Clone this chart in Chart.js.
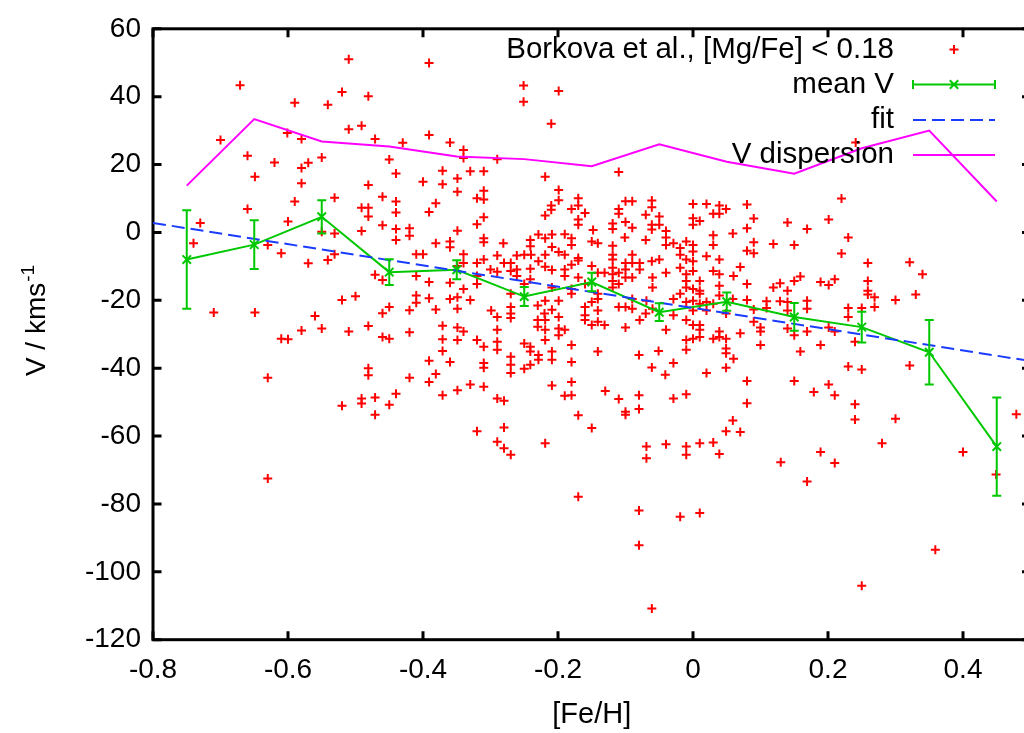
<!DOCTYPE html>
<html>
<head>
<meta charset="utf-8">
<script src="https://cdn.jsdelivr.net/npm/chart.js@4/dist/chart.umd.min.js"></script>
<style>
  html, body { margin: 0; padding: 0; background: #fff; overflow: hidden; }
  #wrap { width: 1024px; height: 733px; overflow: hidden; }
</style>
</head>
<body>
<div id="wrap"><canvas id="chart" width="1040" height="733"></canvas></div>
<script>
// [Fe/H] tick labels
const feHTicks = [-0.8, -0.6, -0.4, -0.2, 0, 0.2, 0.4];

const legendLabels = ["Borkova et al., [Mg/Fe] < 0.18", "mean V", "fit", "V dispersion"];

// Borkova et al. stars, [Fe/H] vs V (km/s)
const borkovaMetalPoor = [
  [-0.510,51.0],[-0.391,49.9],[-0.671,43.4],[-0.520,41.4],[-0.481,40.1],[-0.590,38.2],[-0.541,37.6],[-0.491,31.4],[-0.510,30.4],[-0.601,29.3],
  [-0.391,28.7],[-0.700,27.2],[-0.580,27.5],[-0.471,27.5],[-0.430,26.4],[-0.660,22.6],[-0.550,22.1],[-0.620,20.6],[-0.570,20.5],[-0.580,19.0],
  [-0.450,21.5],[-0.371,18.2],[-0.649,16.4],[-0.440,17.4],[-0.580,14.5],[-0.481,14.0],[-0.400,14.9],[-0.371,14.2],[-0.531,10.2],[-0.460,10.5],
  [-0.590,9.1],[-0.440,9.1],[-0.381,8.6],[-0.660,6.9],[-0.491,7.3],[-0.481,7.3],[-0.481,4.7],[-0.440,5.9],[-0.391,6.0],[-0.730,2.8],
  [-0.600,3.2],[-0.460,2.1],[-0.491,0.4],[-0.440,1.0],[-0.420,1.2],[-0.550,0.2],[-0.531,-0.3],[-0.420,-1.0],[-0.740,-3.2],[-0.440,-2.2],
  [-0.381,-3.2],[-0.630,-3.7],[-0.610,-6.1],[-0.531,-6.4],[-0.541,-8.1],[-0.410,-6.4],[-0.400,-6.4],[-0.570,-9.1],[-0.471,-12.5],[-0.460,-14.0],
  [-0.410,-12.8],[-0.391,-14.6],[-0.520,-19.9],[-0.500,-18.8],[-0.410,-18.6],[-0.410,-20.7],[-0.391,-19.4],[-0.710,-23.6],[-0.649,-23.6],[-0.560,-24.6],
  [-0.450,-22.0],[-0.460,-23.8],[-0.420,-22.9],[-0.381,-22.7],[-0.481,-27.6],[-0.550,-28.3],[-0.580,-28.9],[-0.510,-29.2],[-0.420,-29.4],[-0.371,-27.5],
  [-0.610,-31.3],[-0.600,-31.5],[-0.460,-30.8],[-0.450,-31.3],[-0.371,-31.5],[-0.371,-34.9],[-0.391,-37.8],[-0.481,-40.0],[-0.481,-42.1],[-0.630,-42.8],
  [-0.420,-42.8],[-0.381,-41.7],[-0.391,-44.1],[-0.371,-48.0],[-0.440,-47.5],[-0.491,-48.9],[-0.471,-48.6],[-0.491,-50.4],[-0.520,-51.1],[-0.450,-50.8],
  [-0.471,-53.7],[-0.630,-72.5]
];

const borkovaMid = [
  [-0.251,43.3],[-0.251,38.5],[-0.199,41.7],[-0.210,32.0],[-0.360,26.5],[-0.340,24.3],[-0.340,21.9],[-0.290,21.6],[-0.330,18.0],[-0.310,18.0],
  [-0.349,15.9],[-0.349,12.0],[-0.310,12.3],[-0.320,10.1],[-0.310,9.7],[-0.219,16.4],[-0.110,17.8],[-0.199,12.5],[-0.199,9.5],[-0.210,7.9],
  [-0.210,6.7],[-0.219,5.0],[-0.180,6.9],[-0.170,10.1],[-0.170,7.9],[-0.160,5.7],[-0.170,3.8],[-0.170,2.3],[-0.310,4.5],[-0.320,2.4],
  [-0.349,0.5],[-0.100,9.2],[-0.090,9.2],[-0.061,9.4],[0.000,8.4],[0.020,8.4],[0.039,7.9],[0.049,6.9],[-0.061,7.4],[-0.110,6.9],
  [-0.110,5.5],[-0.070,5.2],[-0.050,4.7],[0.000,4.2],[0.010,3.4],[0.030,5.5],[0.039,5.5],[-0.100,3.1],[-0.061,2.3],[-0.050,2.3],
  [0.000,2.3],[-0.119,2.6],[-0.090,1.4],[-0.119,1.0],[-0.229,-0.6],[-0.209,-0.6],[-0.190,-0.5],[-0.148,0.7],[-0.061,0.9],[-0.040,0.4],
  [-0.101,-1.5],[-0.070,-2.2],[-0.040,-1.5],[0.030,-0.8],[0.059,-0.3],[-0.360,-2.7],[-0.310,-1.7],[-0.310,-2.9],[-0.281,-3.2],[-0.241,-2.2],
  [-0.241,-4.1],[-0.219,-1.7],[-0.180,-1.7],[-0.180,-3.7],[-0.150,-2.7],[-0.141,-3.2],[-0.119,-3.9],[-0.029,-3.2],[-0.010,-2.7],[0.000,-3.7],
  [0.030,-3.7],[-0.040,-3.7],[-0.360,-4.4],[-0.209,-4.3],[-0.340,-6.4],[-0.290,-6.8],[-0.310,-8.0],[-0.261,-6.8],[-0.250,-6.6],[-0.240,-6.6],
  [-0.219,-6.6],[-0.199,-5.8],[-0.190,-6.6],[-0.170,-7.5],[-0.170,-8.3],[-0.119,-6.6],[-0.119,-8.0],[-0.100,-9.0],[-0.090,-6.6],[-0.090,-9.0],
  [-0.079,-9.0],[-0.061,-8.5],[-0.050,-8.0],[-0.019,-4.6],[-0.019,-6.6],[-0.010,-8.0],[0.000,-5.6],[0.000,-8.5],[0.020,-7.0],[0.039,-8.0],
  [-0.340,-9.0],[-0.320,-9.0],[-0.280,-9.0],[-0.270,-9.0],[-0.229,-8.5],[-0.180,-9.5],[-0.349,-9.9],[-0.300,-10.9],[-0.290,-11.6],[-0.270,-11.4],
  [-0.261,-10.9],[-0.241,-10.7],[-0.219,-10.1],[-0.209,-11.1],[-0.190,-10.9],[-0.150,-9.9],[-0.141,-11.9],[-0.131,-11.9],[-0.119,-10.4],[-0.119,-12.3],
  [-0.110,-11.9],[-0.100,-10.9],[-0.079,-10.9],[-0.040,-11.9],[-0.019,-10.4],[-0.010,-12.3],[0.000,-11.4],[0.030,-11.4],[0.039,-12.3],[-0.320,-12.8],
  [-0.261,-12.8],[-0.241,-13.8],[-0.190,-12.8],[-0.170,-13.3],[-0.119,-14.3],[-0.100,-13.3],[-0.090,-13.3],[-0.060,-13.3],[-0.010,-14.3],[0.010,-14.3],
  [-0.360,-14.8],[-0.320,-15.2],[-0.340,-16.7],[-0.250,-15.2],[-0.209,-16.2],[-0.180,-16.7],[-0.160,-15.2],[-0.110,-15.2],[-0.119,-16.2],[-0.060,-16.2],
  [-0.010,-16.2],[0.000,-16.7],[0.010,-17.2],[0.039,-15.7],[-0.360,-19.6],[-0.349,-19.1],[-0.330,-19.9],[-0.349,-22.5],[-0.270,-18.1],[-0.219,-20.1],
  [-0.199,-20.1],[-0.180,-18.1],[-0.141,-18.1],[-0.150,-20.5],[-0.141,-19.6],[-0.090,-19.6],[-0.069,-20.1],[-0.029,-19.6],[-0.019,-18.1],[-0.010,-20.5],
  [0.000,-20.1],[0.010,-18.1],[0.020,-20.5],[0.030,-21.0],[0.039,-18.6],[0.059,-19.6],[-0.299,-23.0],[-0.290,-24.9],[-0.270,-22.0],[-0.270,-23.9],
  [-0.270,-25.2],[-0.230,-21.5],[-0.220,-23.9],[-0.209,-22.8],[-0.230,-25.8],[-0.219,-25.8],[-0.199,-24.9],[-0.160,-22.0],[-0.160,-24.4],[-0.160,-25.8],
  [-0.141,-23.0],[-0.141,-26.3],[-0.110,-22.0],[-0.100,-22.0],[-0.090,-22.5],[-0.070,-23.9],[-0.060,-22.5],[-0.029,-24.4],[0.000,-23.0],[0.010,-21.0],
  [0.020,-23.0],[0.049,-23.9],[-0.349,-28.0],[-0.340,-29.2],[-0.290,-28.7],[-0.230,-27.8],[-0.219,-28.7],[-0.199,-28.3],[-0.190,-28.7],[-0.150,-27.3],
  [-0.131,-27.3],[-0.100,-28.0],[-0.079,-25.8],[-0.040,-28.7],[-0.010,-25.8],[0.000,-27.3],[0.010,-27.3],[0.010,-28.7],[0.039,-29.2],
  [-0.349,-31.7],[-0.320,-31.7],[-0.290,-32.2],[-0.290,-34.6],[-0.310,-33.7],[-0.250,-32.7],[-0.241,-33.7],[-0.241,-35.1],[-0.229,-36.1],[-0.229,-37.5],
  [-0.209,-35.1],[-0.209,-37.5],[-0.219,-31.7],[-0.199,-30.3],[-0.180,-33.2],[-0.180,-38.2],[-0.141,-35.1],[-0.080,-36.1],[-0.051,-34.9],[-0.010,-31.7],
  [-0.010,-34.6],[0.000,-31.3],[0.010,-30.8],[0.030,-31.3],[0.039,-30.8],[0.049,-31.3],[0.049,-34.2],[0.049,-35.6],[-0.360,-38.2],[-0.310,-38.5],
  [-0.310,-39.9],[-0.270,-36.6],[-0.270,-39.0],[-0.270,-41.4],[-0.250,-40.2],[-0.241,-39.0],[-0.061,-39.8],[-0.029,-38.5],[-0.041,-41.9],[0.020,-41.4],
  [0.049,-39.9],[-0.349,-46.5],[-0.330,-44.8],[-0.310,-45.5],[-0.290,-48.9],[-0.280,-49.6],[-0.209,-45.1],[-0.190,-48.1],[-0.180,-44.1],[-0.180,-48.0],
  [-0.130,-46.7],[-0.110,-49.1],[-0.080,-48.0],[-0.080,-52.0],[-0.100,-52.8],[-0.100,-53.7],[-0.029,-48.9],[-0.010,-47.7],[-0.170,-53.9],[-0.150,-57.6],
  [-0.320,-58.6],[-0.280,-57.5],[-0.290,-61.7],[-0.280,-63.6],[-0.270,-65.5],[-0.219,-62.1],[-0.069,-63.1],[-0.069,-66.5],[-0.040,-62.4],[-0.010,-63.1],
  [-0.010,-65.5],[0.010,-62.1],[0.030,-61.9],[0.039,-65.3],[0.059,-55.4],[0.049,-58.6],[-0.170,-77.9],[-0.080,-81.9],[-0.019,-83.8],[0.010,-82.7],
  [-0.080,-92.2],[-0.061,-110.8]
];

const borkovaMetalRich = [
  [0.241,26.5],[0.220,10.0],[0.080,8.2],[0.090,4.1],[0.080,1.2],[0.140,2.9],[0.169,1.0],[0.201,3.8],[0.230,-1.5],[0.090,-2.9],
  [0.080,-5.4],[0.090,-6.1],[0.119,-3.4],[0.150,-3.7],[0.220,-6.2],[0.259,-9.0],[0.321,-8.8],[0.340,-12.3],[0.070,-10.2],[0.060,-12.8],
  [0.080,-15.2],[0.119,-16.2],[0.129,-15.0],[0.140,-17.2],[0.150,-14.3],[0.159,-13.0],[0.189,-14.6],[0.201,-15.5],[0.210,-13.8],[0.259,-14.3],
  [0.259,-17.2],[0.259,-18.3],[0.269,-19.1],[0.269,-22.0],[0.300,-19.9],[0.330,-18.3],[0.080,-19.9],[0.090,-22.7],[0.109,-20.3],[0.109,-22.3],
  [0.129,-20.3],[0.140,-20.5],[0.140,-23.0],[0.169,-20.1],[0.169,-22.5],[0.230,-22.3],[0.230,-24.9],[0.250,-22.3],[0.090,-26.3],[0.100,-28.0],
  [0.100,-29.2],[0.140,-28.3],[0.169,-29.2],[0.201,-28.0],[0.210,-29.2],[0.070,-29.7],
  [0.100,-33.2],[0.150,-30.3],[0.159,-35.1],[0.189,-33.2],[0.240,-32.2],[0.060,-37.2],[0.080,-43.8],[0.080,-50.3],[0.150,-43.8],[0.179,-47.0],
  [0.201,-44.8],[0.210,-48.0],[0.230,-39.5],[0.250,-40.4],[0.240,-50.6],[0.240,-55.1],[0.300,-54.9],[0.321,-39.2],[0.280,-62.1],[0.070,-58.8],
  [0.130,-67.7],[0.169,-73.4],[0.189,-64.7],[0.210,-67.9],[0.400,-64.7],[0.479,-53.6],[0.449,-71.3],[0.359,-93.5],[0.250,-104.1]
];

// binned mean V with its error, and V dispersion per bin
const meanFeH = [-0.75, -0.65, -0.55, -0.45, -0.35, -0.25, -0.15, -0.05, 0.05, 0.15, 0.25, 0.35, 0.45];
const meanV = [-8.0, -3.6, 4.6, -11.7, -11.0, -18.9, -14.6, -23.5, -20.4, -24.9, -27.9, -35.3, -63.1];
const meanVErr = [14.5, 7.2, 4.9, 3.8, 2.8, 2.8, 2.7, 2.6, 2.7, 4.1, 4.5, 9.5, 14.5];
const dispersionV = [13.8, 33.4, 26.8, 25.3, 22.4, 21.6, 19.5, 26.0, 20.8, 17.3, 24.8, 30.0, 9.1];

// linear fit
const fitFeH = [-0.8, 0.5];
const fitV = [2.8, -37.9];

const FONT = '"Liberation Sans", Arial, Helvetica, sans-serif';
const RED = '#ff0000', GREEN = '#00c800', BLUE = '#1a3cff', MAGENTA = '#ff00ff';

Chart.defaults.font.family = FONT;
Chart.defaults.color = '#000';

const toXY = (xs, ys) => xs.map((x, i) => ({ x: x, y: ys[i] }));
const borkova = [...borkovaMetalPoor, ...borkovaMid, ...borkovaMetalRich].map(p => ({ x: p[0], y: p[1] }));

// gnuplot style border with inward ticks on all four sides
const framePlugin = {
  id: 'gnuplotFrame',
  beforeDatasetsDraw(chart) {
    const { ctx, chartArea: a, scales } = chart;
    const tl = 8.5;
    ctx.save();
    ctx.strokeStyle = '#000';
    ctx.lineWidth = 3;
    ctx.beginPath();
    scales.x.ticks.forEach(t => {
      const px = scales.x.getPixelForValue(t.value);
      ctx.moveTo(px, a.bottom); ctx.lineTo(px, a.bottom - tl);
      ctx.moveTo(px, a.top); ctx.lineTo(px, a.top + tl);
    });
    scales.y.ticks.forEach(t => {
      const py = scales.y.getPixelForValue(t.value);
      ctx.moveTo(a.left, py); ctx.lineTo(a.left + tl, py);
      ctx.moveTo(a.right, py); ctx.lineTo(a.right - tl, py);
    });
    ctx.stroke();
    ctx.strokeRect(a.left, a.top, a.right - a.left, a.bottom - a.top);
    ctx.restore();
  }
};

const errorBarPlugin = {
  id: 'meanErrorBars',
  afterDatasetsDraw(chart) {
    const { ctx, scales: { x, y } } = chart;
    ctx.save();
    ctx.strokeStyle = GREEN;
    ctx.lineWidth = 2;
    ctx.beginPath();
    meanFeH.forEach((feh, i) => {
      const px = x.getPixelForValue(feh);
      const top = y.getPixelForValue(meanV[i] + meanVErr[i]);
      const bot = y.getPixelForValue(meanV[i] - meanVErr[i]);
      ctx.moveTo(px, top); ctx.lineTo(px, bot);
      ctx.moveTo(px - 4.5, top); ctx.lineTo(px + 4.5, top);
      ctx.moveTo(px - 4.5, bot); ctx.lineTo(px + 4.5, bot);
    });
    ctx.stroke();
    ctx.restore();
  }
};

// key in the top right corner, text right aligned, sample to its right
const keyPlugin = {
  id: 'gnuplotKey',
  afterDatasetsDraw(chart) {
    const ctx = chart.ctx;
    const textRight = 894, s0 = 913, s1 = 995, sm = (s0 + s1) / 2;
    const rows = [49.5, 84.5, 120, 155];
    ctx.save();
    ctx.font = '29.5px ' + FONT;
    ctx.fillStyle = '#000';
    ctx.textAlign = 'right';
    ctx.textBaseline = 'middle';
    legendLabels.forEach((t, i) => ctx.fillText(t, textRight, rows[i]));

    ctx.lineWidth = 2;
    // points
    ctx.strokeStyle = RED;
    ctx.beginPath();
    ctx.moveTo(sm - 4.5, rows[0]); ctx.lineTo(sm + 4.5, rows[0]);
    ctx.moveTo(sm, rows[0] - 4.5); ctx.lineTo(sm, rows[0] + 4.5);
    ctx.stroke();
    // mean V
    ctx.strokeStyle = GREEN;
    ctx.beginPath();
    ctx.moveTo(s0, rows[1]); ctx.lineTo(s1, rows[1]);
    ctx.moveTo(s0, rows[1] - 4.5); ctx.lineTo(s0, rows[1] + 4.5);
    ctx.moveTo(s1, rows[1] - 4.5); ctx.lineTo(s1, rows[1] + 4.5);
    ctx.moveTo(sm - 4.2, rows[1] - 4.2); ctx.lineTo(sm + 4.2, rows[1] + 4.2);
    ctx.moveTo(sm - 4.2, rows[1] + 4.2); ctx.lineTo(sm + 4.2, rows[1] - 4.2);
    ctx.stroke();
    // fit
    ctx.strokeStyle = BLUE;
    ctx.setLineDash([13, 6]);
    ctx.beginPath();
    ctx.moveTo(s0, rows[2]); ctx.lineTo(s1, rows[2]);
    ctx.stroke();
    ctx.setLineDash([]);
    // dispersion
    ctx.strokeStyle = MAGENTA;
    ctx.beginPath();
    ctx.moveTo(s0, rows[3]); ctx.lineTo(s1, rows[3]);
    ctx.stroke();
    ctx.restore();
  }
};

const axisTitlePlugin = {
  id: 'axisTitles',
  afterDraw(chart) {
    const { ctx, chartArea: a } = chart;
    ctx.save();
    ctx.fillStyle = '#000';
    // x title
    ctx.font = '29px ' + FONT;
    ctx.textAlign = 'center';
    ctx.textBaseline = 'middle';
    ctx.fillText('[Fe/H]', (a.left + a.right) / 2, 715);
    // y title with superscript
    const main = 'V / kms', sup = '-1';
    ctx.font = '28px ' + FONT;
    const w1 = ctx.measureText(main).width;
    ctx.font = '19px ' + FONT;
    const w2 = ctx.measureText(sup).width;
    const cy = 321;
    ctx.translate(45, cy + (w1 + w2) / 2);
    ctx.rotate(-Math.PI / 2);
    ctx.textAlign = 'left';
    ctx.textBaseline = 'alphabetic';
    ctx.font = '28px ' + FONT;
    ctx.fillText(main, 0, 0);
    ctx.font = '19px ' + FONT;
    ctx.fillText(sup, w1 + 1, -11);
    ctx.restore();
  }
};

new Chart(document.getElementById('chart'), {
  type: 'scatter',
  data: {
    datasets: [
      {
        label: legendLabels[0],
        data: borkova,
        pointStyle: 'cross',
        pointRadius: 4.5,
        pointBorderWidth: 2,
        borderColor: RED,
        backgroundColor: RED,
        showLine: false,
        order: 4
      },
      {
        label: legendLabels[1],
        data: toXY(meanFeH, meanV),
        showLine: true,
        borderColor: GREEN,
        backgroundColor: GREEN,
        borderWidth: 2,
        pointStyle: 'crossRot',
        pointRadius: 6,
        pointBorderWidth: 2,
        order: 3
      },
      {
        label: legendLabels[2],
        data: toXY(fitFeH, fitV),
        showLine: true,
        borderColor: BLUE,
        borderWidth: 2,
        borderDash: [13, 6],
        pointRadius: 0,
        order: 2
      },
      {
        label: legendLabels[3],
        data: toXY(meanFeH, dispersionV),
        showLine: true,
        borderColor: MAGENTA,
        borderWidth: 2,
        pointRadius: 0,
        order: 1
      }
    ]
  },
  options: {
    responsive: false,
    animation: false,
    devicePixelRatio: 1,
    events: [],
    layout: { padding: { top: 18.7, right: 9.5, bottom: 0, left: 0 } },
    plugins: {
      legend: { display: false },
      tooltip: { enabled: false }
    },
    scales: {
      x: {
        type: 'linear',
        min: -0.8,
        max: 0.5,
        grid: { display: false, drawTicks: false },
        border: { display: false },
        ticks: { padding: 14, maxRotation: 0, autoSkip: false, font: { size: 28 }, color: '#000' },
        afterBuildTicks: scale => { scale.ticks = feHTicks.map(v => ({ value: v })); },
        afterFit: scale => { scale.height = 93.3; }
      },
      y: {
        type: 'linear',
        min: -120,
        max: 60,
        grid: { display: false, drawTicks: false },
        border: { display: false },
        ticks: { stepSize: 20, padding: 12, font: { size: 28 }, color: '#000' },
        afterFit: scale => { scale.width = 153; }
      }
    }
  },
  plugins: [framePlugin, errorBarPlugin, keyPlugin, axisTitlePlugin]
});
</script>
</body>
</html>
